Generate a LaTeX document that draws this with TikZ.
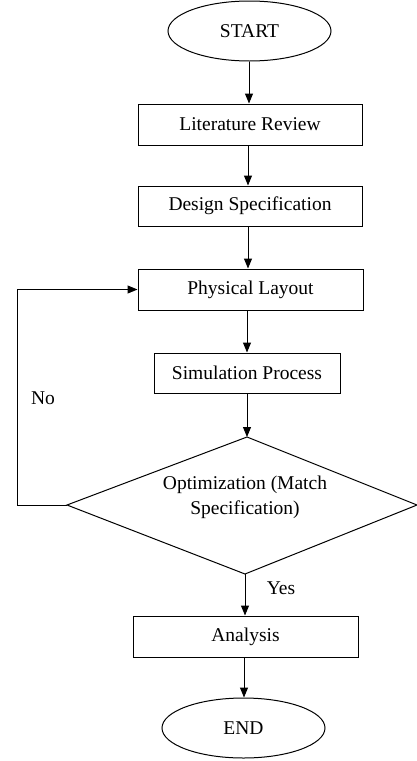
\documentclass[tikz,border=0pt]{standalone}
\usepackage{fontspec}
\setmainfont{Liberation Serif}
\usetikzlibrary{shapes.geometric,arrows.meta}
\begin{document}
\begin{tikzpicture}[x=1pt,y=-1pt,
  every node/.style={font=\fontsize{19.5}{25}\selectfont, inner sep=0pt},
  term/.style={draw, ellipse, line width=1pt, minimum width=163pt, minimum height=60pt},
  proc/.style={draw, rectangle, line width=1pt, minimum height=41pt},
  conn/.style={line width=1pt, -{Triangle[length=10pt,width=8pt]}},
  plain/.style={line width=1pt}]
\useasboundingbox (0,0) rectangle (417,761);
\node[term] (start) at (249.5,31) {START};
\node[proc, minimum width=224pt] (lit) at (250,124.5) {Literature Review};
\node[proc, minimum width=224pt, minimum height=40pt] (des) at (250,206) {Design Specification};
\node[proc, minimum width=225pt] (phys) at (250.5,289.5) {Physical Layout};
\node[proc, minimum width=186pt, minimum height=40pt] (sim) at (247,373) {Simulation Process};
\coordinate (dt) at (247,437);
\coordinate (dl) at (67,505);
\coordinate (dr) at (417,505);
\coordinate (db) at (245,574);
\draw[plain] (dt) -- (dr) -- (db) -- (dl) -- cycle;
\node[align=center] (opt) at (245,497) {Optimization (Match\\Specification)};
\node[proc, minimum width=225pt] (ana) at (245.5,636.5) {Analysis};
\node[term] (end) at (243.5,728) {END};
\coordinate (fb1) at (17,505);
\coordinate (fb2) at (17,289.5);
\node (no) at (43,398) {No};
\node (yes) at (281,588) {Yes};
\draw[conn] (start.south -| 249,0) -- (249,0 |- lit.north);
\draw[conn] (248,0 |- lit.south) -- (248,0 |- des.north);
\draw[conn] (248,0 |- des.south) -- (248,0 |- phys.north);
\draw[conn] (247,0 |- phys.south) -- (247,0 |- sim.north);
\draw[conn] (sim.south) -- (dt);
\draw[conn] (db) -- (245,0 |- ana.north);
\draw[conn] (244,0 |- ana.south) -- (244,0 |- end.north);
\draw[conn] (dl) -- (fb1) -- (fb2) -- (phys.west);
\end{tikzpicture}
\end{document}
